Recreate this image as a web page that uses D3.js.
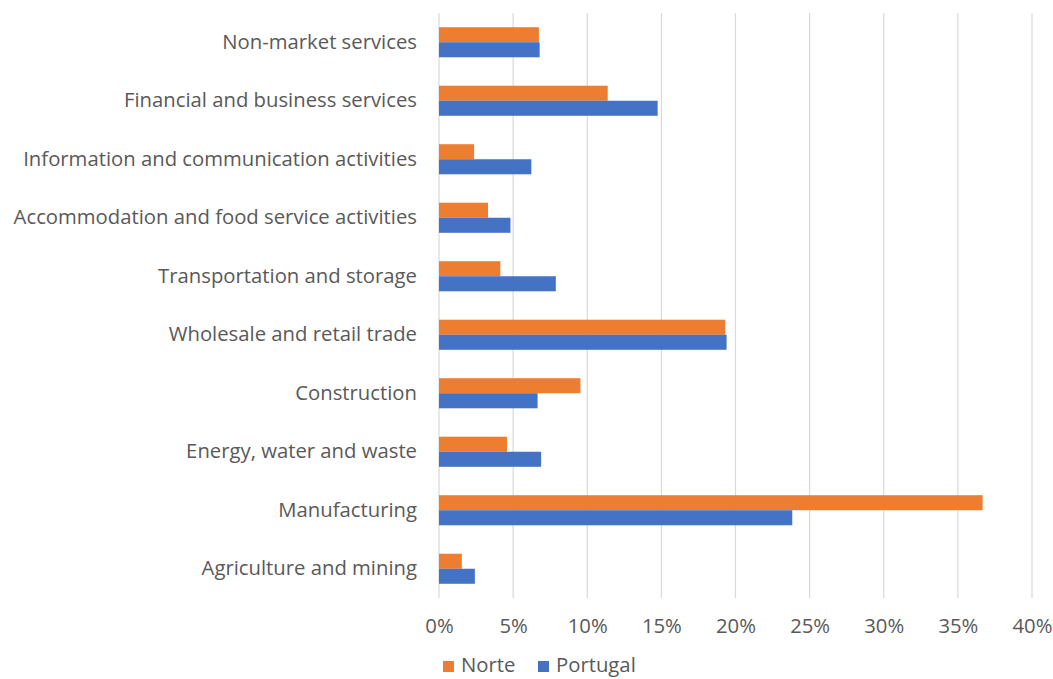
<!DOCTYPE html>
<html><head><meta charset="utf-8">
<script src="https://cdn.jsdelivr.net/npm/d3@7"></script>
<style>body{margin:0;background:#fff}svg{display:block}text{font-family:"Open Sans",sans-serif;fill:#595959}</style>
</head><body><svg id="c" width="1053" height="679"></svg>
<script>
const categories = ["Non-market services","Financial and business services","Information and communication activities","Accommodation and food service activities","Transportation and storage","Wholesale and retail trade","Construction","Energy, water and waste","Manufacturing","Agriculture and mining"];
const norte =    [6.74, 11.38, 2.37, 3.31, 4.14, 19.31, 9.54, 4.59, 36.67, 1.54];
const portugal = [6.79, 14.75, 6.23, 4.82, 7.88, 19.40, 6.65, 6.89, 23.83, 2.42];
const seriesNames = ["Norte","Portugal"];
const colors = ["#ED7D31","#4472C4"];
const tickValues = [0,5,10,15,20,25,30,35,40];

const svg = d3.select("#c");
const m = {left:439, right:1032, top:13, bottom:598};
const x = d3.scaleLinear().domain([0,40]).range([m.left, m.right]);
const y = d3.scaleBand().domain(categories).range([m.top, m.bottom]).paddingInner(0.486).paddingOuter(0.243);
const ys = d3.scaleBand().domain(seriesNames).range([0, y.bandwidth()]);
const fs = "20.3px";

// gridlines
svg.append("g").selectAll("line").data(tickValues).join("line")
  .attr("x1", d=>x(d)).attr("x2", d=>x(d)).attr("y1", m.top).attr("y2", m.bottom)
  .attr("stroke", "#d9d9d9").attr("stroke-width", 1.2);

const data = [norte, portugal];
const g = svg.append("g");
seriesNames.forEach((s,i)=>{
  g.append("g").selectAll("rect").data(categories).join("rect")
    .attr("x", x(0)).attr("y", (c)=>y(c)+ys(s))
    .attr("width", (c,j)=>x(data[i][j])-x(0)).attr("height", ys.bandwidth())
    .attr("fill", colors[i]);
});

// category labels
const ya = d3.axisLeft(y).tickSize(0).tickPadding(22);
const yg = svg.append("g").attr("transform", `translate(${m.left},0)`).call(ya);
yg.select(".domain").remove();
yg.selectAll("text").style("font-size",fs).style("font-family","'Open Sans',sans-serif").style("fill","#595959");

// x axis
const xa = d3.axisBottom(x).tickValues(tickValues).tickFormat(d=>d+"%").tickSize(0).tickPadding(21);
const xg = svg.append("g").attr("transform", `translate(0,${m.bottom})`).call(xa);
xg.select(".domain").remove();
xg.selectAll("text").style("font-size",fs).style("font-family","'Open Sans',sans-serif").style("fill","#595959");

// legend
const leg = svg.append("g").attr("transform","translate(443,665)");
const lx = [0, 95];
seriesNames.forEach((s,i)=>{
  leg.append("rect").attr("x", lx[i]).attr("y", -4).attr("width", 11).attr("height", 11).attr("fill", colors[i]);
  leg.append("text").attr("x", lx[i]+18).attr("y", 0).attr("dy","0.35em").style("font-size",fs).text(s);
});
</script></body></html>
